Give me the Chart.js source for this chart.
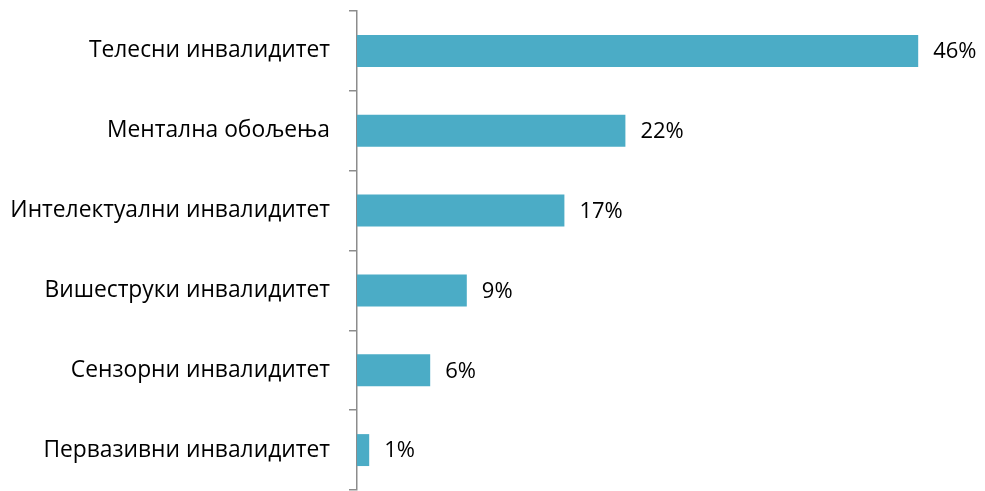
<!DOCTYPE html>
<html>
<head>
<meta charset="utf-8">
<script src="https://cdn.jsdelivr.net/npm/chart.js@4"></script>
<style>
  html, body { margin: 0; padding: 0; background: #fff; }
</style>
</head>
<body>
<canvas id="grafico" width="985" height="491"></canvas>
<script>
// Подаци са слике
const kategorije = [
  "Телесни инвалидитет",
  "Ментална обољења",
  "Интелектуални инвалидитет",
  "Вишеструки инвалидитет",
  "Сензорни инвалидитет",
  "Первазивни инвалидитет"
];
const procenti = [46, 22, 17, 9, 6, 1];

// натписи вредности десно од стубића
const natpisi = {
  id: "natpisi",
  afterDatasetsDraw(chart) {
    const ctx = chart.ctx;
    const meta = chart.getDatasetMeta(0);
    ctx.save();
    ctx.font = "22px 'Open Sans', sans-serif";
    ctx.fillStyle = "#000";
    ctx.textBaseline = "middle";
    ctx.textAlign = "left";
    meta.data.forEach((bar, i) => {
      ctx.fillText(procenti[i] + "%", bar.x + 15, bar.y + 1);
    });
    ctx.restore();
  }
};

const ctx = document.getElementById("grafico").getContext("2d");

new Chart(ctx, {
  type: "bar",
  data: {
    labels: kategorije,
    datasets: [{
      data: procenti,
      backgroundColor: "#4BACC6",
      barPercentage: 0.5,
      categoryPercentage: 0.8
    }]
  },
  options: {
    indexAxis: "y",
    responsive: false,
    animation: false,
    layout: { padding: { top: 11, right: 18, bottom: 1, left: 0 } },
    plugins: {
      legend: { display: false },
      tooltip: { enabled: false }
    },
    scales: {
      x: {
        display: false,
        min: 0,
        max: 50
      },
      y: {
        border: { color: "#8c8c8c", width: 1.5 },
        grid: {
          drawOnChartArea: false,
          color: "#8c8c8c",
          lineWidth: 1.5,
          tickLength: 8
        },
        ticks: {
          color: "#000",
          padding: 19,
          font: { family: "'Open Sans', sans-serif", size: 22.8 }
        },
        afterFit(s) {
          s.width = 357;
          s.paddingTop = 0;
          s.paddingBottom = 0;
        }
      }
    }
  },
  plugins: [natpisi]
});
</script>
</body>
</html>
